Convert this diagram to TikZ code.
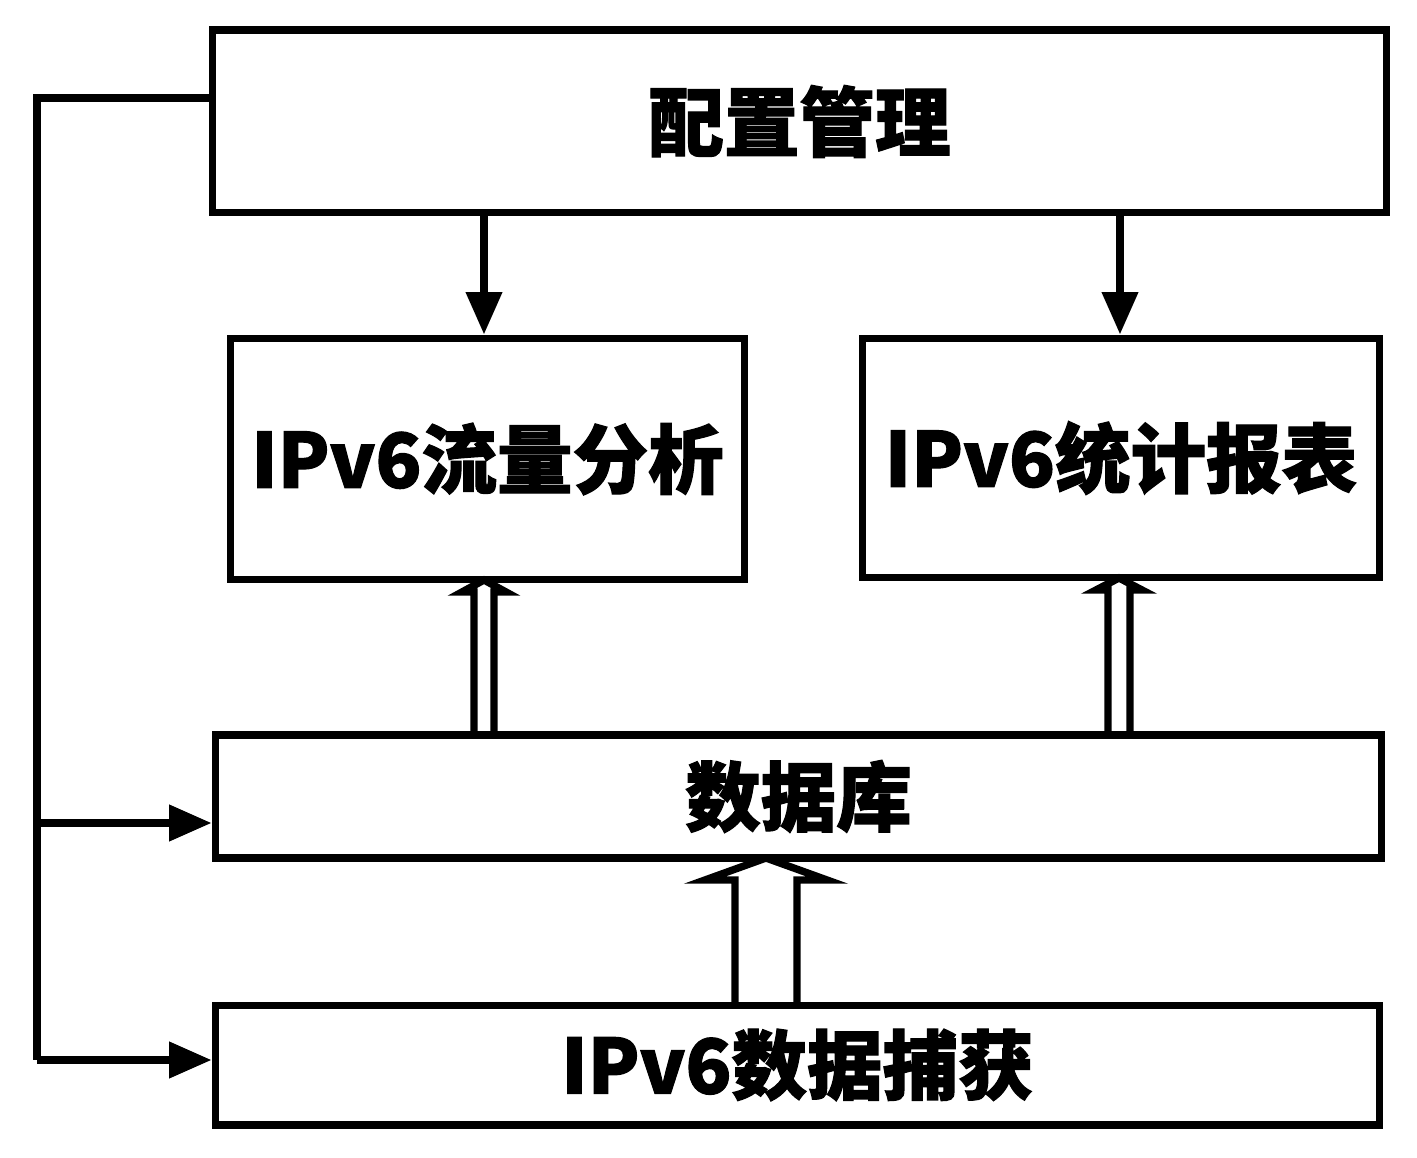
\documentclass[tikz,border=0pt]{standalone}
\usepackage{fontspec}
\newfontfamily\cjk{Noto Sans CJK SC}[BoldFeatures={FakeBold=1.5}]
\usetikzlibrary{arrows.meta}
\usetikzlibrary{calc}

% hollow double-line arrow pointing up: #1 foot, #2 tip, #3 half gap, #4 flare, #5 head height
\newcommand{\hollowup}[5]{%
  \draw[link] ($(#1)+(-#3,0)$) -- ($(#2)+(-#3,#5)$) -- ($(#2)+(-#3-#4,#5)$) -- (#2)
    -- ($(#2)+(#3+#4,#5)$) -- ($(#2)+(#3,#5)$) -- ($(#1)+(#3,0)$);}

\tikzset{
  box/.style={draw, line width=4pt, font=\cjk\bfseries\fontsize{43}{43}\selectfont, inner sep=0pt},
  link/.style={line width=4.2pt, line join=miter},
  arrow/.style={link, -{Triangle[length=0.85cm, width=0.7cm]}}
}

\begin{document}
\begin{tikzpicture}[x=0.02cm, y=-0.02cm]
        \useasboundingbox (0,0) rectangle (1417,1158);

        % Configuration management
        \node[box, minimum width=23.5cm, minimum height=3.66cm] (cfg) at (799.5,121.5) {配置管理};

        % Analysis and report
        \node[box, minimum width=10.3cm, minimum height=4.84cm] (ana) at (487.5,459) {IPv6流量分析};
        \node[box, minimum width=10.36cm, minimum height=4.8cm] (rep) at (1121,458) {IPv6统计报表};

        % Database and capture
        \node[box, minimum width=23.34cm, minimum height=2.46cm] (db) at (798.5,796.5) {数据库};
        \node[box, minimum width=23.3cm, minimum height=2.4cm] (cap) at (797.5,1065) {IPv6数据捕获};

        % Control arrows from configuration
        \coordinate (a1) at (484,0);
        \coordinate (a2) at (1120,0);
        \draw[arrow] (cfg.south -| a1) -- (ana.north -| a1);
        \draw[arrow] (cfg.south -| a2) -- (rep.north -| a2);

        % Left bus
        \coordinate (bustop) at (37,98);
        \coordinate (busdb) at (37,823);
        \coordinate (buscap) at (37,1060);
        \draw[link] (cfg.west |- bustop) -- (bustop) -- (buscap);
        \draw[arrow] (busdb) -- (busdb -| db.west);
        \draw[arrow] (buscap) -- (buscap -| cap.west);

        % Data flow
        \coordinate (f1) at (484,735);  \coordinate (t1) at (484,580);
        \coordinate (f2) at (1119,735); \coordinate (t2) at (1119,578);
        \coordinate (f3) at (766,1005); \coordinate (t3) at (766,858);
        \hollowup{f1}{t1}{10}{12}{12}
        \hollowup{f2}{t2}{11}{12}{12}
        \hollowup{f3}{t3}{31}{30}{22}

    \end{tikzpicture}
\end{document}
